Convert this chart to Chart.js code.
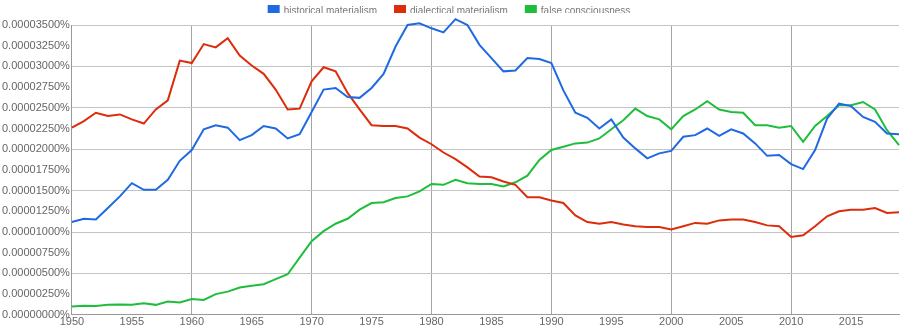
<!DOCTYPE html>
<html>
<head>
<meta charset="utf-8">
<script src="https://cdn.jsdelivr.net/npm/chart.js@4.4.1/dist/chart.umd.min.js"></script>
<style>
	html, body { margin: 0; padding: 0; background: #fff; }
	#wrap { width: 900px; height: 330px; position: relative; }
</style>
</head>
<body>
<div id="wrap"><canvas id="grafico"></canvas></div>
<script>
// Datos (valores en unidades de 0.00001%)
const years = [];
for (let y = 1950; y <= 2019; y++) years.push(y);

const historicalMaterialism = [
	1.12,1.16,1.15,1.29,1.43,1.59,1.51,1.51,1.63,1.86,
	1.99,2.24,2.29,2.26,2.11,2.17,2.28,2.25,2.13,2.18,
	2.45,2.72,2.74,2.63,2.62,2.74,2.91,3.24,3.50,3.52,
	3.46,3.41,3.57,3.50,3.26,3.10,2.94,2.95,3.10,3.09,
	3.04,2.71,2.44,2.38,2.25,2.36,2.14,2.01,1.89,1.95,
	1.98,2.15,2.17,2.25,2.16,2.24,2.19,2.07,1.92,1.93,
	1.82,1.76,1.99,2.37,2.55,2.52,2.39,2.33,2.19,2.18
];
const dialecticalMaterialism = [
	2.26,2.34,2.44,2.40,2.42,2.36,2.31,2.48,2.59,3.07,
	3.04,3.27,3.23,3.34,3.13,3.01,2.91,2.72,2.48,2.49,
	2.82,2.99,2.94,2.68,2.48,2.29,2.28,2.28,2.25,2.14,
	2.06,1.96,1.88,1.78,1.67,1.66,1.61,1.57,1.42,1.42,
	1.38,1.35,1.20,1.12,1.10,1.12,1.09,1.07,1.06,1.06,
	1.03,1.07,1.11,1.10,1.14,1.15,1.15,1.12,1.08,1.07,
	0.94,0.96,1.07,1.19,1.25,1.27,1.27,1.29,1.23,1.24
];
const falseConsciousness = [
	0.10,0.11,0.105,0.12,0.125,0.12,0.14,0.12,0.16,0.15,
	0.19,0.18,0.25,0.28,0.33,0.35,0.37,0.43,0.49,0.69,
	0.89,1.01,1.10,1.16,1.27,1.35,1.36,1.41,1.43,1.49,
	1.58,1.57,1.63,1.59,1.58,1.58,1.55,1.60,1.68,1.87,
	1.99,2.03,2.07,2.08,2.13,2.24,2.35,2.49,2.40,2.36,
	2.24,2.40,2.48,2.58,2.48,2.45,2.44,2.29,2.29,2.26,
	2.28,2.09,2.28,2.40,2.53,2.53,2.57,2.48,2.23,2.05
];

const seriesNames = ['historical materialism', 'dialectical materialism', 'false consciousness'];
const seriesColors = ['#1f6ae2', '#dc2c0c', '#1ebd3c'];

// Sube la leyenda hasta el borde superior
const legendShift = {
	id: 'legendShift',
	afterLayout(chart) {
		chart.legend.top -= 12;
		chart.legend.bottom -= 12;
	}
};

function serie(i, data) {
	return {
		label: seriesNames[i],
		data: data,
		borderColor: seriesColors[i],
		backgroundColor: seriesColors[i],
		borderWidth: 2,
		pointRadius: 0,
		tension: 0,
		clip: false
	};
}

Chart.defaults.font.family = '"Liberation Sans", Arial, sans-serif';
Chart.defaults.font.size = 10;

new Chart(document.getElementById('grafico'), {
	type: 'line',
	data: {
		labels: years,
		datasets: [
			serie(0, historicalMaterialism),
			serie(1, dialecticalMaterialism),
			serie(2, falseConsciousness)
		]
	},
	options: {
		responsive: true,
		maintainAspectRatio: false,
		animation: false,
		layout: { padding: { left: 0, right: 1, top: 0, bottom: 0 } },
		plugins: {
			legend: {
				position: 'top',
				maxHeight: 25,
				labels: { boxWidth: 10, boxHeight: 10, padding: 18, color: '#777', font: { size: 10 } }
			},
			tooltip: { enabled: false }
		},
		scales: {
			x: {
				grid: {
					drawTicks: false,
					color: ctx => (ctx.index !== undefined && years[ctx.index] % 10 === 0) ? '#a4a4a4' : 'transparent'
				},
				border: { color: '#999' },
				ticks: {
					autoSkip: false,
					maxRotation: 0,
					padding: 1,
					color: '#666',
					font: { size: 11 },
					callback: (v, i) => years[i] % 5 === 0 ? String(years[i]) : ''
				}
			},
			y: {
				min: 0,
				max: 3.5,
				grid: {
					drawTicks: false,
					color: ctx => {
						const v = ctx.tick ? ctx.tick.value : 0;
						return Math.abs(v * 2 - Math.round(v * 2)) < 1e-6 ? '#c4c4c4' : 'transparent';
					}
				},
				border: { color: '#999' },
				ticks: {
					stepSize: 0.25,
					padding: 2,
					color: '#666',
					font: { size: 11 },
					callback: v => (v * 1e-5).toFixed(8) + '%'
				}
			}
		}
	},
	plugins: [legendShift]
});
</script>
</body>
</html>
